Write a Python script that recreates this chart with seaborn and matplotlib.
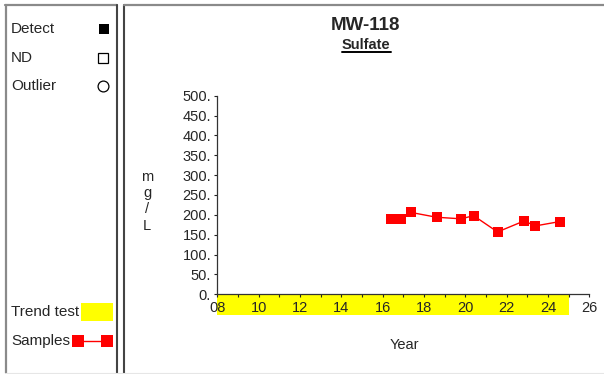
import matplotlib
matplotlib.use("Agg")
import matplotlib.pyplot as plt
import matplotlib.transforms as mtransforms
from matplotlib.lines import Line2D
from matplotlib.patches import Rectangle
import numpy as np
import pandas as pd
import seaborn as sns

# Sulfate samples at MW-118 (decimal year, mg/L)
sample_years = [2016.40, 2016.87, 2017.38, 2018.61, 2019.80, 2020.40, 2021.56, 2022.86, 2023.37, 2024.56]
sulfate_mg_l = [190, 190, 206, 194, 190, 198, 157, 185, 172, 183]

# Period covered by the trend test
trend_start, trend_end = 2008.0, 2025.03

y_ticks = list(range(0, 501, 50))
x_ticks = list(range(2008, 2027, 2))

sns.set_style("white")
plt.rcParams["font.family"] = ["Liberation Sans", "DejaVu Sans"]

W, H = 604, 374
fig = plt.figure(figsize=(W / 100, H / 100), dpi=100)


def fx(px):
    return px / W


def fy(py):
    return 1 - py / H


ax = fig.add_axes([fx(217.3), fy(294.3), fx(589.3) - fx(217.3), fy(95.7) - fy(294.3)])

df = pd.DataFrame({"year": sample_years, "sulfate": sulfate_mg_l})
sns.lineplot(data=df, x="year", y="sulfate", ax=ax, color="#ff0000", lw=1.0,
             marker="s", markersize=7.8, markeredgewidth=0, markerfacecolor="#ff0000",
             sort=False, zorder=3)

ax.set_xlim(2008, 2026)
ax.set_ylim(0, 500)
ax.set_xticks(x_ticks)
ax.set_xticklabels([f"{t % 100:02d}" for t in x_ticks])
ax.set_xticks(list(range(2008, 2027)), minor=True)
ax.set_yticks(y_ticks)
ax.set_yticklabels([f"{t}." for t in y_ticks])
ax.tick_params(axis="x", which="both", direction="out", length=2.5, width=0.8,
               color="#222222", labelsize=10.5, pad=2)
ax.tick_params(axis="y", direction="out", length=2, width=0.8, color="#222222",
               labelsize=10.5, pad=2.5)
ax.tick_params(left=True, bottom=True)
ax.tick_params(axis="x", which="minor", bottom=True)
for side in ("top", "right"):
    ax.spines[side].set_visible(False)
for side in ("left", "bottom"):
    ax.spines[side].set_color("#333333")
    ax.spines[side].set_linewidth(0.9)
ax.set_xlabel("")
ax.set_ylabel("")
ax.patch.set_alpha(0)

# Yellow band under the axis marking the trend-test period
trans = mtransforms.blended_transform_factory(ax.transData, ax.transAxes)
band_h = (315 - 294.3) / (294.3 - 95.7)
ax.add_patch(Rectangle((trend_start, -band_h), trend_end - trend_start, band_h,
                       transform=trans, facecolor="#ffff00", edgecolor="none",
                       clip_on=False, zorder=0.5))

# Titles
fig.text(fx(366), fy(25), "MW-118", ha="center", va="center", fontsize=13.5, fontweight="bold")
fig.text(fx(366), fy(45), "Sulfate", ha="center", va="center", fontsize=10.5, fontweight="bold")
fig.add_artist(Line2D([fx(342), fx(391)], [fy(51.5), fy(51.5)], color="black", lw=1.4))

# Stacked unit label and x label
for ch, py in zip(["m", "g", "/", "L"], [177, 193, 209, 226]):
    fig.text(fx(147), fy(py), ch, ha="center", va="center", fontsize=10.5)
fig.text(fx(404), fy(345), "Year", ha="center", va="center", fontsize=10.5)

# Panel frames
for (x0, y0, x1, y1, c, lw) in [
    (5, 5, 117, 5, "#8a8a8a", 1.6), (5.5, 5, 5.5, 373, "#8a8a8a", 1.6),
    (117, 5, 117, 373, "#444444", 1.5), (124, 5, 124, 373, "#444444", 1.5),
    (124, 5, 604, 5, "#8a8a8a", 1.6), (5, 373, 604, 373, "#e6e6e6", 0.8),
]:
    fig.add_artist(Line2D([fx(x0), fx(x1)], [fy(y0), fy(y1)], color=c, lw=lw))

# Legend panel
legend_fs = 11
fig.text(fx(11), fy(29), "Detect", ha="left", va="center", fontsize=legend_fs)
fig.text(fx(11), fy(58), "ND", ha="left", va="center", fontsize=legend_fs)
fig.text(fx(11), fy(86), "Outlier", ha="left", va="center", fontsize=legend_fs)
fig.add_artist(Line2D([fx(104)], [fy(29)], marker="s", markersize=7.8, color="black",
                      markeredgewidth=0, linestyle="none"))
fig.add_artist(Line2D([fx(103.5)], [fy(58)], marker="s", markersize=7.5, markerfacecolor="white",
                      markeredgecolor="black", markeredgewidth=0.9, linestyle="none"))
fig.add_artist(Line2D([fx(103.5)], [fy(86)], marker="o", markersize=7.8, markerfacecolor="white",
                      markeredgecolor="black", markeredgewidth=0.9, linestyle="none"))

fig.text(fx(11), fy(312), "Trend test", ha="left", va="center", fontsize=legend_fs)
fig.add_artist(Rectangle((fx(81), fy(321)), fx(113) - fx(81), fy(303) - fy(321),
                         transform=fig.transFigure, facecolor="#ffff00", edgecolor="none"))
fig.text(fx(11), fy(341), "Samples", ha="left", va="center", fontsize=legend_fs)
fig.add_artist(Line2D([fx(78), fx(107)], [fy(341), fy(341)], color="#ff0000", lw=1.0,
                      marker="s", markersize=8, markeredgewidth=0))

fig.savefig("out.png", dpi=100)
